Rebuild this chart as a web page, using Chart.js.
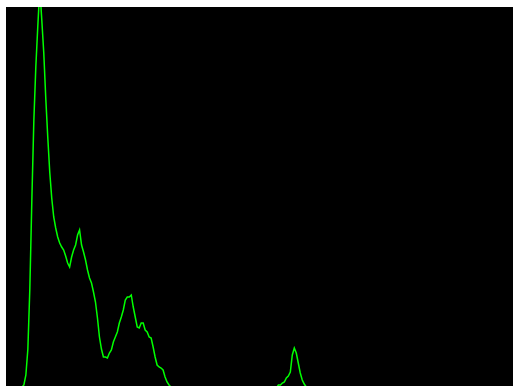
<!DOCTYPE html>
<html>
<head>
<meta charset="utf-8">
<script src="https://cdn.jsdelivr.net/npm/chart.js@4/dist/chart.umd.min.js"></script>
<style>
  html, body { margin: 0; padding: 0; background: #ffffff; overflow: hidden; width: 513px; height: 386px; }
  #plot { position: absolute; left: 6px; top: 7px; width: 507px; height: 381px; background: #000000; }
  #plot canvas { display: block; }
</style>
</head>
<body>
<div id="plot"><canvas id="c"></canvas></div>
<script>
// Histogram of 256 bins
const counts = [
  0,0,0,0,0,0,0,0,
  1,3,13,39,100,188,267,321,362,400,
  368,335,290,251,216,190,171,160,151,145,
  141,138,132,125,121,131,138,143,153,158,
  143,136,128,118,110,105,96,86,70,51,
  39,31,31,30,35,38,46,51,56,65,
  71,78,88,91,91,93,81,71,61,60,
  65,65,58,56,51,50,41,31,23,21,
  20,18,11,6,3,1,
  0,0,0,0,0,0,0,0,0,0,
  0,0,0,0,0,0,0,0,0,0,
  0,0,0,0,0,0,0,0,0,0,
  0,0,0,0,0,0,0,0,0,0,
  0,0,0,0,0,0,0,0,0,0,
  0,0,0,
  3,3,5,6,10,12,16,33,40,35,25,15,8,4,1,
  0,0,0,0,0,0,0,0,0,0,
  0,0,0,0,0,0,0,0,0,0,
  0,0,0,0,0,0,0,0,0,0,
  0,0,0,0,0,0,0,0,0,0,
  0,0,0,0,0,0,0,0,0,0,
  0,0,0,0,0,0,0,0,0,0,
  0,0,0,0,0,0,0,0,0,0,
  0,0,0,0,0,0,0,0,0,0,
  0,0,0,0,0,0,0,0,0,0,
  0,0,0,0,0,0,0,0,0,0,
  0,0,0,0
];
const bins = counts.map((_, i) => String(i));
const yMax = 381;

new Chart(document.getElementById('c'), {
  type: 'line',
  data: {
    labels: bins,
    datasets: [{
      data: counts,
      borderColor: '#00ff00',
      borderWidth: 1.5,
      pointRadius: 0,
      tension: 0,
      fill: false
    }]
  },
  options: {
    responsive: true,
    maintainAspectRatio: false,
    animation: false,
    devicePixelRatio: 1,
    layout: { padding: 0 },
    plugins: { legend: { display: false }, tooltip: { enabled: false } },
    scales: {
      x: { display: false, offset: false },
      y: { display: false, min: 0, max: yMax }
    }
  }
});
</script>
</body>
</html>
